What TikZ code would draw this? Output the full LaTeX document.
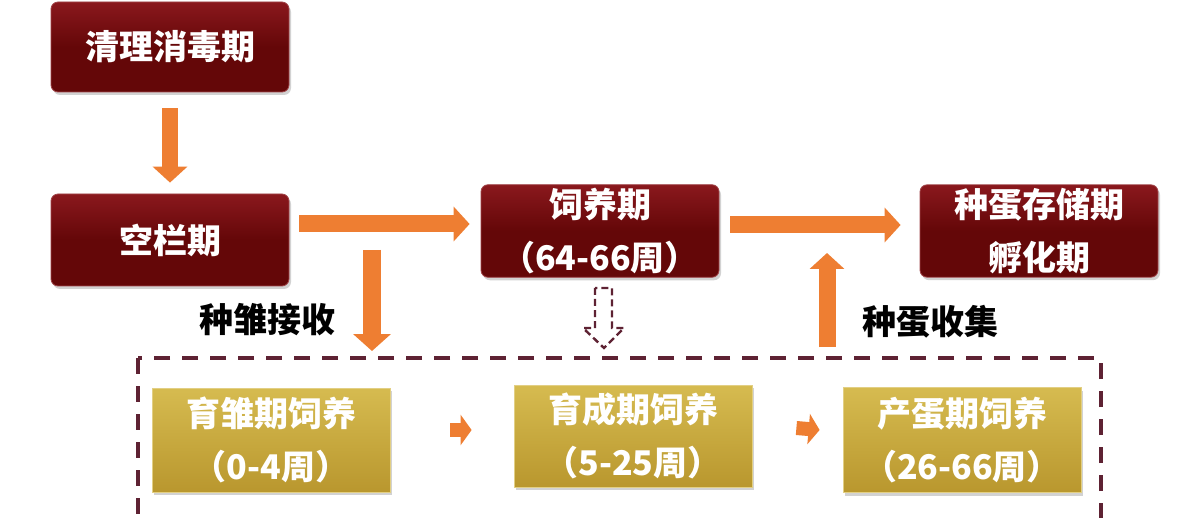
\documentclass[tikz,border=0pt]{standalone}
\usepackage{fontspec}
\newfontfamily\cjk{Noto Sans CJK SC}
\usetikzlibrary{arrows.meta,shadows}
\definecolor{redA}{HTML}{8A181D}
\definecolor{redB}{HTML}{640708}
\definecolor{goldA}{HTML}{D6BB50}
\definecolor{goldB}{HTML}{B9972E}
\definecolor{orangeA}{HTML}{EE7E32}
\definecolor{maroon}{HTML}{5E2233}
\tikzset{
  redbox/.style={rounded corners=7pt, minimum width=238pt, align=center,
    top color=redA, bottom color=redB, middle color=redB, draw=redA!80!white, line width=0.8pt,
    text=white, font=\cjk\bfseries\fontsize{34}{53}\selectfont,
    drop shadow={opacity=0.35, shadow xshift=2pt, shadow yshift=-3pt}},
  goldbox/.style={minimum width=238pt, align=center,
    top color=goldA, bottom color=goldB, draw=goldA!70!white, line width=0.8pt,
    text=white, font=\cjk\bfseries\fontsize{34}{53}\selectfont,
    drop shadow={opacity=0.35, shadow xshift=2pt, shadow yshift=-3pt}},
  fat/.style={draw=orangeA, line width=17pt, -{Triangle[width=34pt,length=16pt]}},
  smallarr/.style={draw=orangeA, line width=14pt, -{Triangle[width=30pt,length=11pt]}},
  lbl/.style={text=black, font=\cjk\bfseries\fontsize{34}{40}\selectfont},
}
\begin{document}
\begin{tikzpicture}[x=1pt,y=-1pt]
\useasboundingbox (0,0) rectangle (1190,518);
\clip (0,0) rectangle (1190,518);
\fill[white] (0,0) rectangle (1190,518);
% top row
\node[redbox, minimum height=90pt] (b1) at (170,47) {清理消毒期};
\node[redbox, minimum height=92pt] (b2) at (170,240) {空栏期};
\node[redbox, minimum height=91pt] (b3) at (600,231) {饲养期\\（64-66周）};
\node[redbox, minimum height=91pt] (b4) at (1039,231) {种蛋存储期\\孵化期};
% bottom row
\node[goldbox, minimum height=104pt] (g1) at (271,440) {育雏期饲养\\（0-4周）};
\node[goldbox, minimum height=102pt] (g2) at (633,436) {育成期饲养\\（5-25周）};
\node[goldbox, minimum height=105pt] (g3) at (962,440) {产蛋期饲养\\（26-66周）};
% dashed frame
\coordinate (fA) at (138,358);
\coordinate (fB) at (1101,545);
\draw[maroon, line width=3.5pt, dash pattern=on 16pt off 12pt] (fA) rectangle (fB);
% labels
\node[lbl] (l1) at (267,320) {种雏接收};
\node[lbl] (l2) at (930,322) {种蛋收集};
% orange arrows
\draw[fat, line width=16pt] ([yshift=-16pt]b1.south) -- ([yshift=11pt]b2.north);
\draw[fat] ([xshift=10pt,yshift=16pt]b2.east) -- ([xshift=-11pt,yshift=7pt]b3.west);
\draw[fat] ([xshift=11pt,yshift=6pt]b3.east) -- ([xshift=-19pt,yshift=6pt]b4.west);
\coordinate (dTop) at (372,250);
\coordinate (dBot) at (372,351);
\draw[fat, line width=18pt, -{Triangle[width=37pt,length=17pt]}] (dTop) -- (dBot);
\coordinate (uBot) at (827,347);
\coordinate (uTop) at (827,253);
\draw[fat] (uBot) -- (uTop);
% small arrows
\draw[smallarr] ([xshift=60pt,yshift=10pt]g1.east) -- ([xshift=-42pt,yshift=6pt]g2.west);
\draw[smallarr] ([xshift=44pt,yshift=8pt]g2.east) -- ([xshift=-23pt,yshift=10pt]g3.west);
% hollow dashed arrow
\coordinate (hv) at (604,288);
\draw[maroon, line width=2.4pt, dash pattern=on 7pt off 4pt, line join=miter]
  ([xshift=-9pt]hv) -- ++(0,40) -- ++(-12,0) -- ([yshift=-60pt]hv) -- ++(20,-20) -- ++(-12,0) -- ++(0,-40) -- cycle;
\end{tikzpicture}
\end{document}
